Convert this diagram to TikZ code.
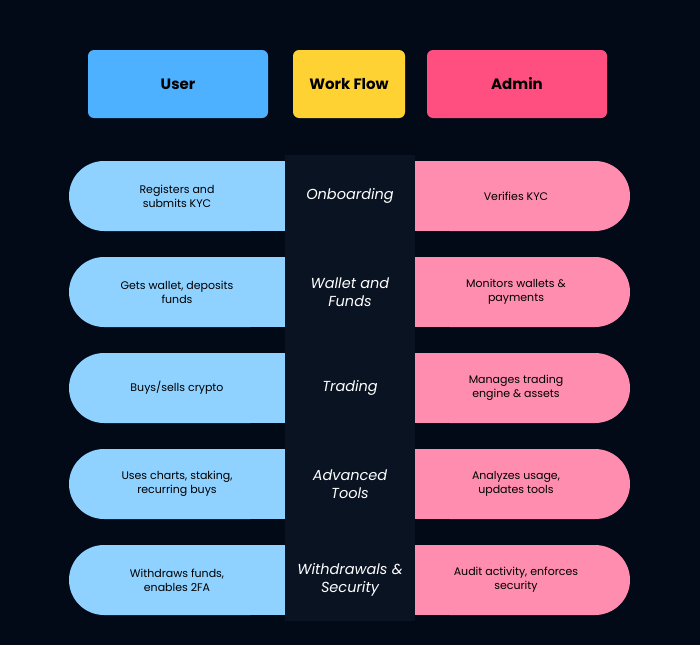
\documentclass[tikz,border=0pt]{standalone}
\usepackage{fontspec}
\setmainfont{Poppins}
\usetikzlibrary{positioning}
\definecolor{bg}{HTML}{030A17}
\definecolor{strip}{HTML}{0A1322}
\definecolor{userc}{HTML}{4DB1FF}
\definecolor{flowc}{HTML}{FFD233}
\definecolor{adminc}{HTML}{FF4F80}
\definecolor{userl}{HTML}{8FD1FF}
\definecolor{adminl}{HTML}{FF8DB0}
\tikzstyle{head}=[rounded corners=6pt, minimum height=68pt, font=\fontsize{15}{18}\selectfont\bfseries, text=black]
\tikzstyle{lpill}=[fill=userl]
\tikzstyle{rpill}=[fill=adminl]
\tikzstyle{ltxt}=[align=center, font=\fontsize{11}{14}\selectfont, text=black]
\tikzstyle{mtxt}=[align=center, font=\fontsize{14.5}{18}\selectfont\itshape, text=white]
\begin{document}
\begin{tikzpicture}[x=1pt,y=-1pt]
\fill[bg] (0,0) rectangle (700,645);
\useasboundingbox (0,0) rectangle (700,645);
% headers
\node[head, fill=userc, minimum width=180pt] (user) at (178,84) {User};
\node[head, fill=flowc, minimum width=112pt] (flow) at (349,84) {Work Flow};
\node[head, fill=adminc, minimum width=180pt] (admin) at (517,84) {Admin};
% middle strip
\fill[strip] (285,155) rectangle (415,621);
% rows
\foreach \y/\ul/\mid/\ad [count=\i] in {
  196/{Registers and\\submits KYC}/{Onboarding}/{Verifies KYC},
  292/{Gets wallet, deposits\\funds}/{Wallet and\\Funds}/{Monitors wallets \&\\payments},
  388/{Buys/sells crypto}/{Trading}/{Manages trading\\engine \& assets},
  484/{Uses charts, staking,\\recurring buys}/{Advanced\\Tools}/{Analyzes usage,\\updates tools},
  580/{Withdraws funds,\\enables 2FA}/{Withdrawals \&\\Security}/{Audit activity, enforces\\security}}{
  \fill[lpill, rounded corners=35pt] (69,\y-35) rectangle (285,\y+35);
  \fill[lpill] (200,\y-35) rectangle (285,\y+35);
  \fill[rpill, rounded corners=35pt] (415,\y-35) rectangle (630,\y+35);
  \fill[rpill] (415,\y-35) rectangle (500,\y+35);
  \node[ltxt] (u\i) at (177,\y) {\ul};
  \node[mtxt] (m\i) at (350,\y) {\mid};
  \node[ltxt] (a\i) at (516,\y) {\ad};
}
\end{tikzpicture}
\end{document}
